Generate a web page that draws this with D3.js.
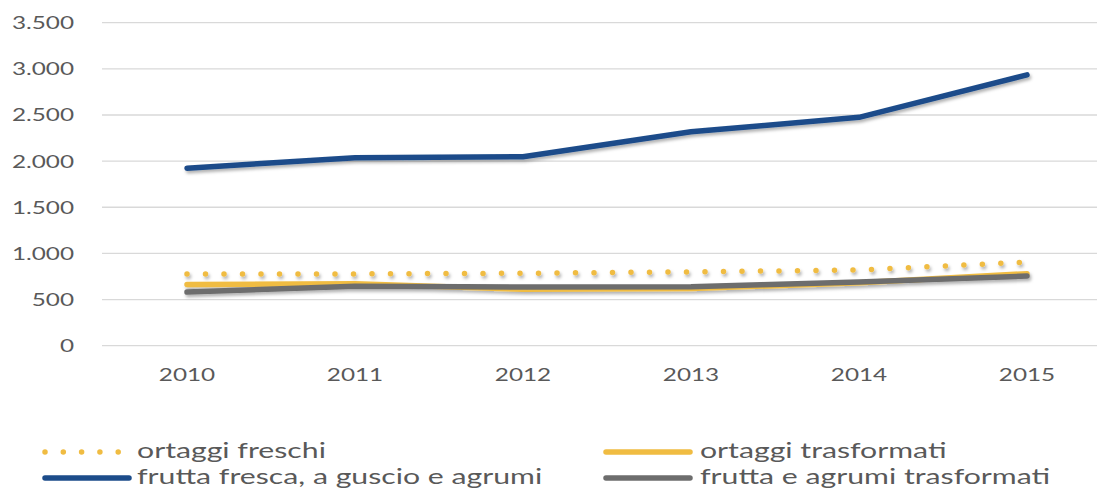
<!DOCTYPE html>
<html>
<head>
<meta charset="utf-8">
<script src="https://cdn.jsdelivr.net/npm/d3@7"></script>
<style>
    body { margin: 0; background: #fff; }
    text { font-family: Lato, "Open Sans", sans-serif; fill: #595959; }
</style>
</head>
<body>
<svg id="chart" width="1097" height="490"></svg>
<script>
'use strict';

var years = ['2010', '2011', '2012', '2013', '2014', '2015']
var yTicks = [0, 500, 1000, 1500, 2000, 2500, 3000, 3500]

var ortaggiFreschi = [776, 778, 785, 800, 820, 906]
var ortaggiTrasformati = [663, 672, 611, 619, 682, 780]
var fruttaFresca = [1924, 2037, 2048, 2318, 2475, 2935]
var fruttaTrasformati = [581, 645, 636, 638, 690, 755]

var seriesNames = ['ortaggi freschi', 'ortaggi trasformati',
    'frutta fresca, a guscio e agrumi', 'frutta e agrumi trasformati']

var lineChart = (function() {
    var svg = d3.select('#chart')
    var axisStretch = 1.35
    var legendStretch = 1.44

    var x = d3.scaleBand().domain(years).range([103, 1111])
    var y = d3.scaleLinear().domain([0, 3500]).range([345.7, 22.7])

    var series = [
        { name: seriesNames[0], values: ortaggiFreschi, color: '#f0bc42', dotted: true },
        { name: seriesNames[1], values: ortaggiTrasformati, color: '#f0bc42' },
        { name: seriesNames[2], values: fruttaFresca, color: '#1c4c8a' },
        { name: seriesNames[3], values: fruttaTrasformati, color: '#6d6d6d' }
    ]

    function setupShadow() {
        var filter = svg.append('defs').append('filter')
            .attr('id', 'shadow')
            .attr('x', '-5%').attr('y', '-50%')
            .attr('width', '110%').attr('height', '200%')
        filter.append('feDropShadow')
            .attr('dx', 1.5)
            .attr('dy', 2.5)
            .attr('stdDeviation', 1.8)
            .attr('flood-color', '#000')
            .attr('flood-opacity', 0.3)
    }

    // stretch text sideways like the original picture
    function stretch(sel, k) {
        sel.attr('transform', function() {
            var px = +d3.select(this).attr('x')
            return 'translate(' + px + ',0) scale(' + k + ',1) translate(' + (-px) + ',0)'
        })
    }

    function drawGrid() {
        svg.append('g')
            .selectAll('line')
            .data(yTicks)
            .enter().append('line')
            .attr('x1', 102)
            .attr('x2', 1111)
            .attr('y1', function(d) { return y(d); })
            .attr('y2', function(d) { return y(d); })
            .attr('stroke', '#d9d9d9')
            .attr('stroke-width', 1.3)

        var yLabels = svg.append('g')
            .selectAll('text')
            .data(yTicks)
            .enter().append('text')
            .attr('x', 74)
            .attr('y', function(d) { return y(d); })
            .attr('dy', '0.36em')
            .attr('text-anchor', 'end')
            .attr('font-size', 18)
            .text(function(d) { return d3.format(',')(d).replace(/,/g, '.'); })
        stretch(yLabels, axisStretch)

        var xLabels = svg.append('g')
            .selectAll('text')
            .data(years)
            .enter().append('text')
            .attr('x', function(d) { return x(d) + x.bandwidth() / 2; })
            .attr('y', 381)
            .attr('text-anchor', 'middle')
            .attr('font-size', 18)
            .text(function(d) { return d; })
        stretch(xLabels, axisStretch)
    }

    function drawLines() {
        var line = d3.line()
            .x(function(d, i) { return x(years[i]) + x.bandwidth() / 2; })
            .y(function(d) { return y(d); })

        svg.append('g')
            .attr('filter', 'url(#shadow)')
            .selectAll('path')
            .data(series)
            .enter().append('path')
            .attr('d', function(d) { return line(d.values); })
            .attr('fill', 'none')
            .attr('stroke', function(d) { return d.color; })
            .attr('stroke-width', function(d) { return d.dotted ? 5.5 : 5.5; })
            .attr('stroke-linecap', 'round')
            .attr('stroke-linejoin', 'round')
            .attr('stroke-dasharray', function(d) { return d.dotted ? '0 18.5' : null; })
    }

    function drawLegend() {
        var spots = [
            { sx: 45, tx: 137, ty: 452 },
            { sx: 606, tx: 700, ty: 452 },
            { sx: 45, tx: 137, ty: 478 },
            { sx: 606, tx: 700, ty: 478 }
        ]
        var item = svg.append('g')
            .selectAll('g')
            .data(series)
            .enter().append('g')

        item.append('line')
            .attr('x1', function(d, i) { return spots[i].sx; })
            .attr('x2', function(d, i) { return spots[i].sx + (d.dotted ? 74 : 84); })
            .attr('y1', function(d, i) { return spots[i].ty; })
            .attr('y2', function(d, i) { return spots[i].ty; })
            .attr('stroke', function(d) { return d.color; })
            .attr('stroke-width', 5.5)
            .attr('stroke-linecap', 'round')
            .attr('stroke-dasharray', function(d) { return d.dotted ? '0 18.3' : null; })

        var labels = item.append('text')
            .attr('x', function(d, i) { return spots[i].tx; })
            .attr('y', function(d, i) { return spots[i].ty; })
            .attr('dy', '0.3em')
            .attr('font-size', 21)
            .text(function(d) { return d.name; })
        stretch(labels, legendStretch)
    }

    function render() {
        setupShadow()
        drawGrid()
        drawLines()
        drawLegend()
    }

    return { render }
}())

lineChart.render()
</script>
</body>
</html>
